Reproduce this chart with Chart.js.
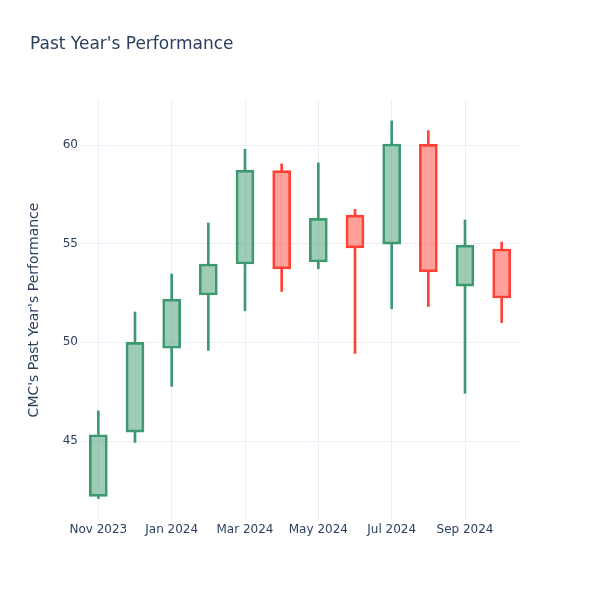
<!DOCTYPE html>
<html>
<head>
<meta charset="utf-8">
<script src="https://cdn.jsdelivr.net/npm/chart.js@4"></script>
<style>
  html, body { margin: 0; padding: 0; background: #fff; }
  #wrap { width: 600px; height: 600px; }
</style>
</head>
<body>
<div id="wrap"><canvas id="chart" width="600" height="600"></canvas></div>
<script>
const months = ['Nov 2023', 'Dec 2023', 'Jan 2024', 'Feb 2024', 'Mar 2024', 'Apr 2024',
  'May 2024', 'Jun 2024', 'Jul 2024', 'Aug 2024', 'Sep 2024', 'Oct 2024'];
const openVals = [42.2, 45.45, 49.7, 52.4, 53.97, 58.7, 54.07, 56.45, 54.98, 60.03, 52.85, 54.73];
const closeVals = [45.32, 50.0, 52.19, 53.97, 58.73, 53.72, 56.28, 54.79, 60.05, 53.58, 54.93, 52.25];
const highVals = [46.53, 51.54, 53.46, 56.05, 59.78, 59.04, 59.09, 56.74, 61.22, 60.73, 56.2, 55.08];
const lowVals = [42.09, 44.93, 47.77, 49.59, 51.6, 52.58, 53.73, 49.44, 51.7, 51.82, 47.42, 51.0];

const UP = '#3d9970';
const DOWN = '#ff4136';
const textColor = '#2a3f5f';
const gridColor = '#ebf0f8';
const FONT = '"DejaVu Sans", sans-serif';

const isUp = i => closeVals[i] >= openVals[i];

// bodies, upper and lower wicks as floating bars
const bodies = months.map((m, i) => [openVals[i], closeVals[i]]);
const upperWicks = months.map((m, i) => [Math.max(openVals[i], closeVals[i]), highVals[i]]);
const lowerWicks = months.map((m, i) => [lowVals[i], Math.min(openVals[i], closeVals[i])]);

const titlePlugin = {
  id: 'plotTitle',
  afterDraw(chart) {
    const ctx = chart.ctx;
    ctx.save();
    ctx.fillStyle = textColor;
    ctx.font = '17px ' + FONT;
    ctx.textBaseline = 'middle';
    ctx.fillText("Past Year's Performance", 30, 45);
    ctx.restore();
  }
};

new Chart(document.getElementById('chart'), {
  type: 'bar',
  data: {
    labels: months,
    datasets: [
      {
        data: bodies,
        grouped: false,
        barThickness: 18,
        borderWidth: 2,
        borderSkipped: false,
        backgroundColor: ctx => isUp(ctx.dataIndex) ? 'rgba(61,153,112,0.5)' : 'rgba(255,65,54,0.5)',
        borderColor: ctx => isUp(ctx.dataIndex) ? UP : DOWN
      },
      {
        data: upperWicks,
        grouped: false,
        barThickness: 2,
        borderWidth: 0,
        backgroundColor: ctx => isUp(ctx.dataIndex) ? UP : DOWN
      },
      {
        data: lowerWicks,
        grouped: false,
        barThickness: 2,
        borderWidth: 0,
        backgroundColor: ctx => isUp(ctx.dataIndex) ? UP : DOWN
      }
    ]
  },
  options: {
    responsive: false,
    animation: false,
    layout: { padding: { left: 0, right: 80, top: 100, bottom: 0 } },
    plugins: {
      legend: { display: false },
      tooltip: { enabled: false }
    },
    scales: {
      x: {
        offset: true,
        border: { display: false },
        grid: {
          offset: false,
          drawTicks: false,
          color: ctx => ctx.index % 2 === 0 ? gridColor : 'rgba(0,0,0,0)'
        },
        ticks: {
          autoSkip: false,
          maxRotation: 0,
          padding: 3,
          color: textColor,
          font: { family: FONT, size: 12 },
          callback: (v, i) => i % 2 === 0 ? months[i] : ''
        },
        afterFit: s => { s.height = 80; }
      },
      y: {
        min: 41.0,
        max: 62.28,
        border: { display: false },
        grid: { color: gridColor, drawTicks: false },
        ticks: {
          stepSize: 5,
          padding: 2,
          color: textColor,
          font: { family: FONT, size: 12 }
        },
        afterBuildTicks: s => { s.ticks = s.ticks.filter(t => t.value % 5 === 0); },
        afterFit: s => { s.width = 80; },
        title: {
          display: true,
          text: "CMC's Past Year's Performance",
          color: textColor,
          padding: { top: 26, bottom: 0 },
          font: { family: FONT, size: 14 }
        }
      }
    }
  },
  plugins: [titlePlugin]
});
</script>
</body>
</html>
